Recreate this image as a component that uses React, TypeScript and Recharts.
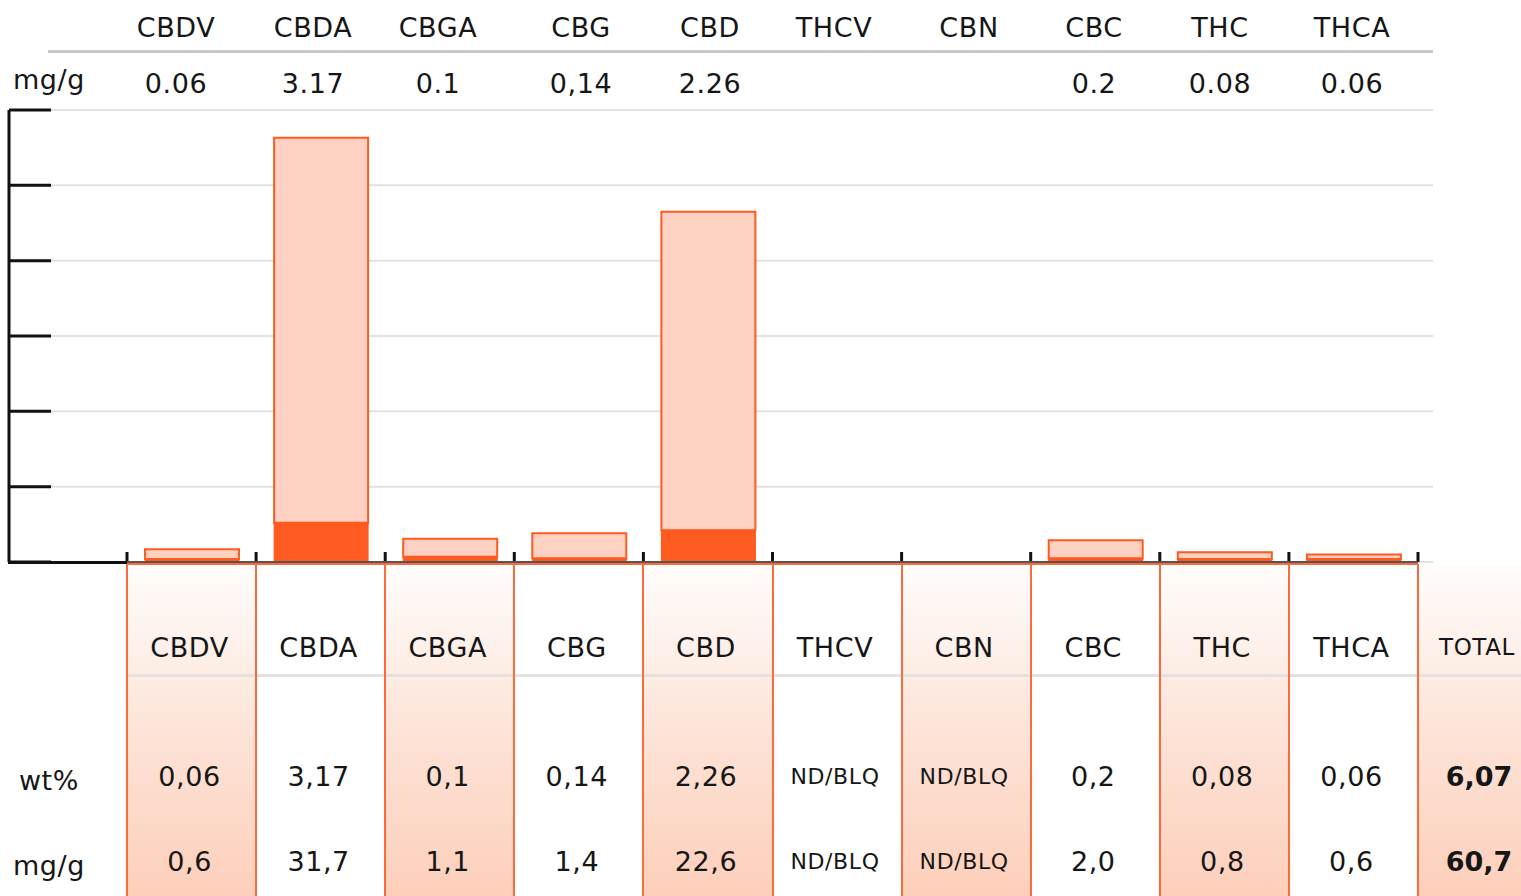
import { BarChart, Bar, XAxis, YAxis, CartesianGrid } from 'recharts';

const compounds = ['CBDV', 'CBDA', 'CBGA', 'CBG', 'CBD', 'THCV', 'CBN', 'CBC', 'THC', 'THCA'];
const headerMg = ['0.06', '3.17', '0.1', '0,14', '2.26', '', '', '0.2', '0.08', '0.06'];
const wtPct = ['0,06', '3,17', '0,1', '0,14', '2,26', 'ND/BLQ', 'ND/BLQ', '0,2', '0,08', '0,06'];
const mgPerG = ['0,6', '31,7', '1,1', '1,4', '22,6', 'ND/BLQ', 'ND/BLQ', '2,0', '0,8', '0,6'];
const totalWt = '6,07';
const totalMg = '60,7';

// bar segments (dark base + light top)
const barBase = [0.04, 0.52, 0.07, 0.05, 0.42, 0, 0, 0.05, 0.04, 0.04];
const barTop = [0.13, 5.11, 0.24, 0.33, 4.23, 0, 0, 0.24, 0.09, 0.06];
const yTicks = [0, 1, 2, 3, 4, 5, 6];

// layout
const headerX = [176, 313, 438, 581, 710, 834, 969, 1094, 1220, 1352];
const colLeft = 127;
const colW = 129.1;

const ORANGE = '#ff5a1f';
const LINE_ORANGE = '#ff6a3d';

const data = compounds.map((name, i) => ({ name, base: barBase[i], top: barTop[i] }));

function BoundaryTick(props: any) {
  const { x, y, payload, index } = props;
  const half = payload?.offset ?? colW / 2;
  const last = index === compounds.length - 1;
  return (
    <g>
      <line x1={x - half} x2={x - half} y1={y - 10} y2={y} stroke="#111" strokeWidth={3} />
      {last && <line x1={x + half} x2={x + half} y1={y - 10} y2={y} stroke="#111" strokeWidth={3} />}
    </g>
  );
}

function Txt({ x, y, children, size = 27, weight = 400, w = 160, ls = 0.6 }: any) {
  return (
    <div
      style={{
        position: 'absolute',
        left: x - w / 2,
        top: y - size,
        width: w,
        height: size * 2,
        lineHeight: `${size * 2}px`,
        textAlign: 'center',
        fontSize: size,
        fontWeight: weight,
        letterSpacing: ls,
        whiteSpace: 'nowrap',
      }}
    >
      {children}
    </div>
  );
}

export default function App() {
  const colCenter = (i: number) => colLeft + colW * (i + 0.5);
  const shade = 'linear-gradient(#fffdfc, #fde6db 45%, #fdcfba)';
  return (
    <div
      style={{
        position: 'absolute',
        left: 0,
        top: 0,
        width: 1521,
        height: 896,
        overflow: 'hidden',
        background: '#fff',
        color: '#161616',
        fontFamily: '"DejaVu Sans", sans-serif',
      }}
    >
      {/* shaded table columns */}
      {compounds.map((c, i) =>
        i % 2 === 0 ? (
          <div
            key={'s' + c}
            style={{ position: 'absolute', left: colLeft + colW * i, top: 565, width: colW, height: 331, background: shade }}
          />
        ) : null
      )}
      <div style={{ position: 'absolute', left: colLeft + colW * 10, top: 565, width: 110, height: 331, background: shade }} />

      <BarChart
        width={1521}
        height={580}
        data={data}
        margin={{ top: 110, right: 88, left: 9, bottom: 0 }}
        style={{ position: 'absolute', left: 0, top: 0 }}
        barSize={94}
      >
        <CartesianGrid vertical={false} stroke="#e2e2e2" strokeWidth={2} />
        <XAxis
          dataKey="name"
          height={18}
          padding={{ left: 118, right: 15 }}
          axisLine={false}
          tickLine={false}
          tickSize={0}
          tickMargin={0}
          interval={0}
          tick={<BoundaryTick />}
        />
        <YAxis
          domain={[0, 6]}
          ticks={yTicks}
          interval={0}
          mirror
          tick={() => <g />}
          tickSize={42}
          axisLine={{ stroke: '#111', strokeWidth: 3 }}
          tickLine={{ stroke: '#111', strokeWidth: 3 }}
        />
        <Bar dataKey="base" stackId="a" fill={ORANGE} stroke={ORANGE} strokeWidth={1} isAnimationActive={false} />
        <Bar dataKey="top" stackId="a" fill="#ffd1c2" stroke={ORANGE} strokeWidth={2} isAnimationActive={false} />
      </BarChart>

      {/* axis bottom lines */}
      <div style={{ position: 'absolute', left: 8, top: 561, width: 120, height: 3, background: '#111' }} />
      <div style={{ position: 'absolute', left: colLeft, top: 561, width: colW * 10, height: 2, background: '#555' }} />
      <div style={{ position: 'absolute', left: colLeft, top: 563, width: colW * 10, height: 2, background: LINE_ORANGE }} />

      {/* header separator */}
      <div style={{ position: 'absolute', left: 48, top: 50, width: 1385, height: 3, background: '#c8c8c8' }} />

      {/* table separators */}
      <div style={{ position: 'absolute', left: colLeft, top: 674, width: 1400, height: 3, background: '#e2e2e2' }} />
      {Array.from({ length: 11 }).map((_, i) => (
        <div
          key={'v' + i}
          style={{ position: 'absolute', left: colLeft + colW * i - 1, top: 564, width: 2, height: 332, background: LINE_ORANGE }}
        />
      ))}

      {/* top header rows */}
      {compounds.map((c, i) => (
        <Txt key={'h' + c} x={headerX[i]} y={28}>{c}</Txt>
      ))}
      <Txt x={49} y={80}>mg/g</Txt>
      {headerMg.map((v, i) => (
        <Txt key={'hm' + i} x={headerX[i]} y={84}>{v}</Txt>
      ))}

      {/* table */}
      {compounds.map((c, i) => (
        <Txt key={'t' + c} x={colCenter(i) - 2} y={648}>{c}</Txt>
      ))}
      <Txt x={1477} y={647} size={23}>TOTAL</Txt>
      <Txt x={49} y={781}>wt%</Txt>
      <Txt x={49} y={866}>mg/g</Txt>
      {wtPct.map((v, i) => (
        <Txt key={'w' + i} x={colCenter(i) - 2} y={777} size={v === 'ND/BLQ' ? 22 : 27}>{v}</Txt>
      ))}
      {mgPerG.map((v, i) => (
        <Txt key={'m' + i} x={colCenter(i) - 2} y={862} size={v === 'ND/BLQ' ? 22 : 27}>{v}</Txt>
      ))}
      <Txt x={1479} y={777} weight={800} ls={0}>{totalWt}</Txt>
      <Txt x={1479} y={862} weight={800} ls={0}>{totalMg}</Txt>
    </div>
  );
}
